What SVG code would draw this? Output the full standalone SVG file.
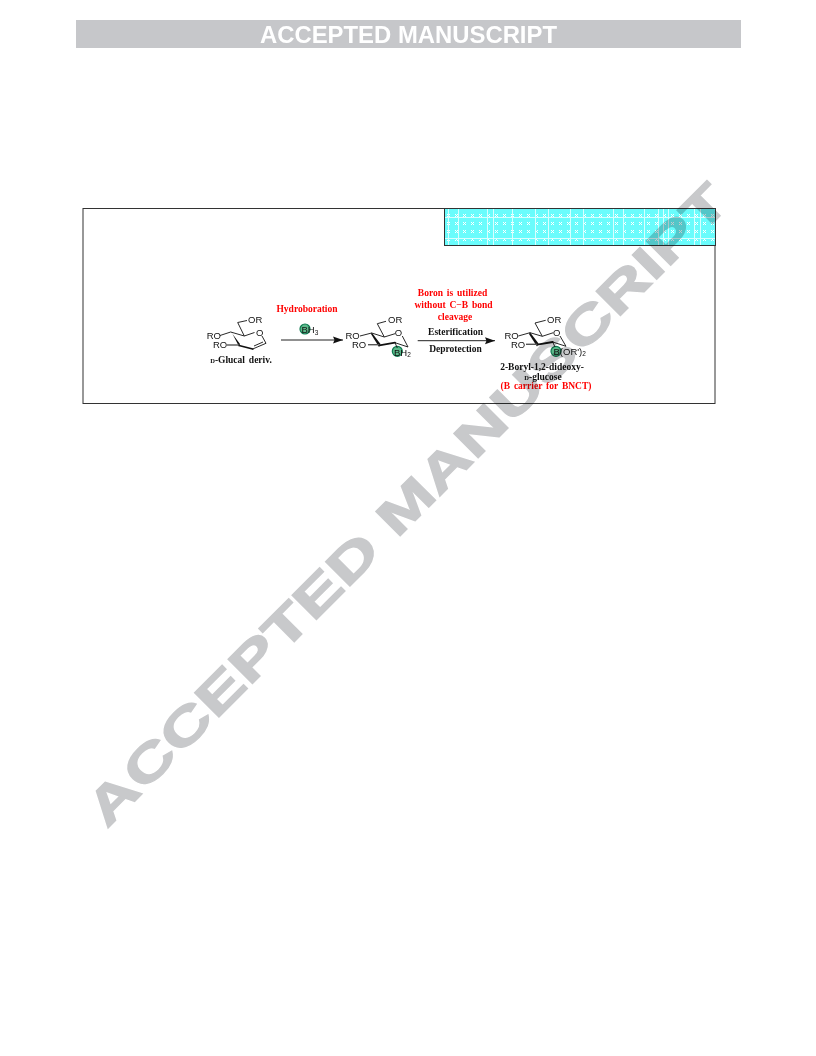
<svg xmlns="http://www.w3.org/2000/svg" width="816" height="1056" viewBox="0 0 816 1056">
<style>
.sf{font-family:"Liberation Sans",Arial,sans-serif;font-size:9.5px;fill:#111}
.tf{font-family:"Liberation Serif","Times New Roman",serif;font-size:9.500px;font-weight:bold;fill:#111;text-anchor:middle;word-spacing:1.5px}
.red{fill:#f00}
.b{fill:none;stroke:#111;stroke-width:.9}
.h{fill:none;stroke:#111;stroke-width:1.800;stroke-linecap:round}
.g{fill:none;stroke:#555;stroke-width:1.400}
.w{fill:#111;stroke:none}
.hl{fill:#5cb98a;stroke:#0d7a50;stroke-width:1.200}
.sm{font-size:6.5px}
.wm{font-family:"Liberation Sans",Arial,sans-serif;font-weight:bold;fill:#c8c9cb;stroke:#c8c9cb;stroke-width:1.300;font-kerning:none;mix-blend-mode:multiply}
</style>
<defs>
<pattern id="dots" patternUnits="userSpaceOnUse" x="445" y="212" width="8" height="8">
<rect width="8" height="8" fill="#6afcfc"/>
<path d="M2 2h1v1h-1zM4 2h1v1h-1zM3 3h1v1h-1zM2 4h1v1h-1zM4 4h1v1h-1z" fill="#fff"/>
</pattern>
<marker id="ah" markerUnits="userSpaceOnUse" markerWidth="11" markerHeight="8" refX="10" refY="4" orient="auto"><path d="M0 .5L10 4L0 7.500L1.500 4Z" fill="#111"/></marker>
</defs>
<rect width="816" height="1056" fill="#fff"/>
<g id="banner">
<rect x="76" y="20" width="665" height="28" fill="#c6c7ca"/>
<text x="260" y="42.500" textLength="297" lengthAdjust="spacingAndGlyphs" font-family="Liberation Sans, Arial, sans-serif" font-weight="bold" font-size="24.500" fill="#fff">ACCEPTED MANUSCRIPT</text>
</g>
<g id="frame">
<rect x="83" y="208.500" width="632" height="195" fill="#fff" stroke="#333" stroke-width="1"/>
</g>
<g id="swatch">
<rect x="444.500" y="208.500" width="271" height="37" fill="url(#dots)"/>
<path d="M448.500 209V245M458.500 209V245M487.500 209V245M493.500 209V245M512.500 209V245M535.500 209V245M548.500 209V245M570.500 209V245M583.500 209V245M613.500 209V245M623.500 209V245M644.500 209V245M658.500 209V245M663.500 209V245M668.500 209V245M694.500 209V245M700.500 209V245M445 217.500H715M445 238.500H715" stroke="#d8ffff" stroke-width="1" fill="none"/>
<rect x="444.500" y="208.500" width="271" height="37" fill="none" stroke="#333" stroke-width="1"/>
</g>
<g id="glucal">
<text class="sf" x="206.700" y="339">RO</text><text class="sf" x="213" y="347.500">RO</text>
<text class="sf" x="248" y="323">OR</text><text class="sf" x="256" y="335.500">O</text>
<path class="b" d="M220 335.500L230.700 332L244.300 336L254.500 332.500M244.300 336L237.700 322.500L247 320.500M262 336L266 343.300"/>
<path class="b" d="M266 343.300L252.700 349M263 342L254 346"/>
<path class="w" d="M230.700 331.500L240 344L239 346.500L232 333Z"/>
<path class="h" d="M239 345.500L252.700 349"/>
<path class="g" d="M227 345H239"/>
<text class="tf" x="241" y="363"><tspan class="sm">D</tspan>-Glucal deriv.</text>
</g>
<g id="borane">
<circle class="hl" cx="397.300" cy="351.300" r="5"/>
<text class="sf" x="345.500" y="339">RO</text><text class="sf" x="352" y="347.500">RO</text>
<text class="sf" x="388" y="323">OR</text><text class="sf" x="394.700" y="336">O</text>
<text class="sf" x="394" y="355.500">BH<tspan class="sm" dy="1.500">2</tspan></text>
<path class="b" d="M360 336L371.700 333L384.300 337L395 333.700M384.300 337L377.300 323.700L386 321.300M402.300 336L408 347L395 342.700L397.300 348"/>
<path class="w" d="M371.700 332.500L380.500 344L379 347L371 334Z"/>
<path class="h" d="M379.300 345.300L395 342.700"/>
<path class="g" d="M368 344.700H379.300"/>
</g>
<g id="product">
<circle class="hl" cx="556" cy="351.300" r="5"/>
<text class="sf" x="504.500" y="339">RO</text><text class="sf" x="511" y="347.500">RO</text>
<text class="sf" x="547" y="323">OR</text><text class="sf" x="553" y="336">O</text>
<text class="sf" x="553.500" y="354.700">B(OR')<tspan class="sm" dy="1.500">2</tspan></text>
<path class="b" d="M518.300 336L530 332.700L542.300 336.300L553.300 332.700M542.300 336.300L535 323L545.700 320.300M560 336L566 346.300L552.700 342L555 347"/>
<path class="w" d="M530 332.200L538.500 343.500L537 346.500L529 334Z"/>
<path class="h" d="M537.300 344.700L552.700 342"/>
<path class="g" d="M526 344.300H537.300"/>
<text class="tf" x="542" y="370">2-Boryl-1,2-dideoxy-</text>
<text class="tf" x="543" y="379.500"><tspan class="sm">D</tspan>-glucose</text>
<text class="tf red" x="546" y="389">(B carrier  for BNCT)</text>
</g>
<g id="connectors" fill="none" stroke="#222" stroke-width="1">
<path d="M281 340H343" marker-end="url(#ah)"/>
<path d="M417.700 340.700H495" marker-end="url(#ah)"/>
</g>
<g id="labels">
<text class="tf red" x="307" y="312">Hydroboration</text>
<circle class="hl" cx="305" cy="329" r="5"/>
<text class="sf" x="301.500" y="333">BH<tspan class="sm" dy="1.500">3</tspan></text>
<text class="tf red" x="452.500" y="296">Boron  is utilized</text>
<text class="tf red" x="453.500" y="308">without  C−B bond</text>
<text class="tf red" x="455" y="320">cleavage</text>
<text class="tf" x="455.500" y="335">Esterification</text>
<text class="tf" x="455.500" y="352">Deprotection</text>
</g>
<g id="watermark">
<text class="wm" font-size="50" transform="translate(107 829) rotate(-45) scale(1.420 1)">ACCEPTED MANUSCRIPT</text>
</g>
</svg>
